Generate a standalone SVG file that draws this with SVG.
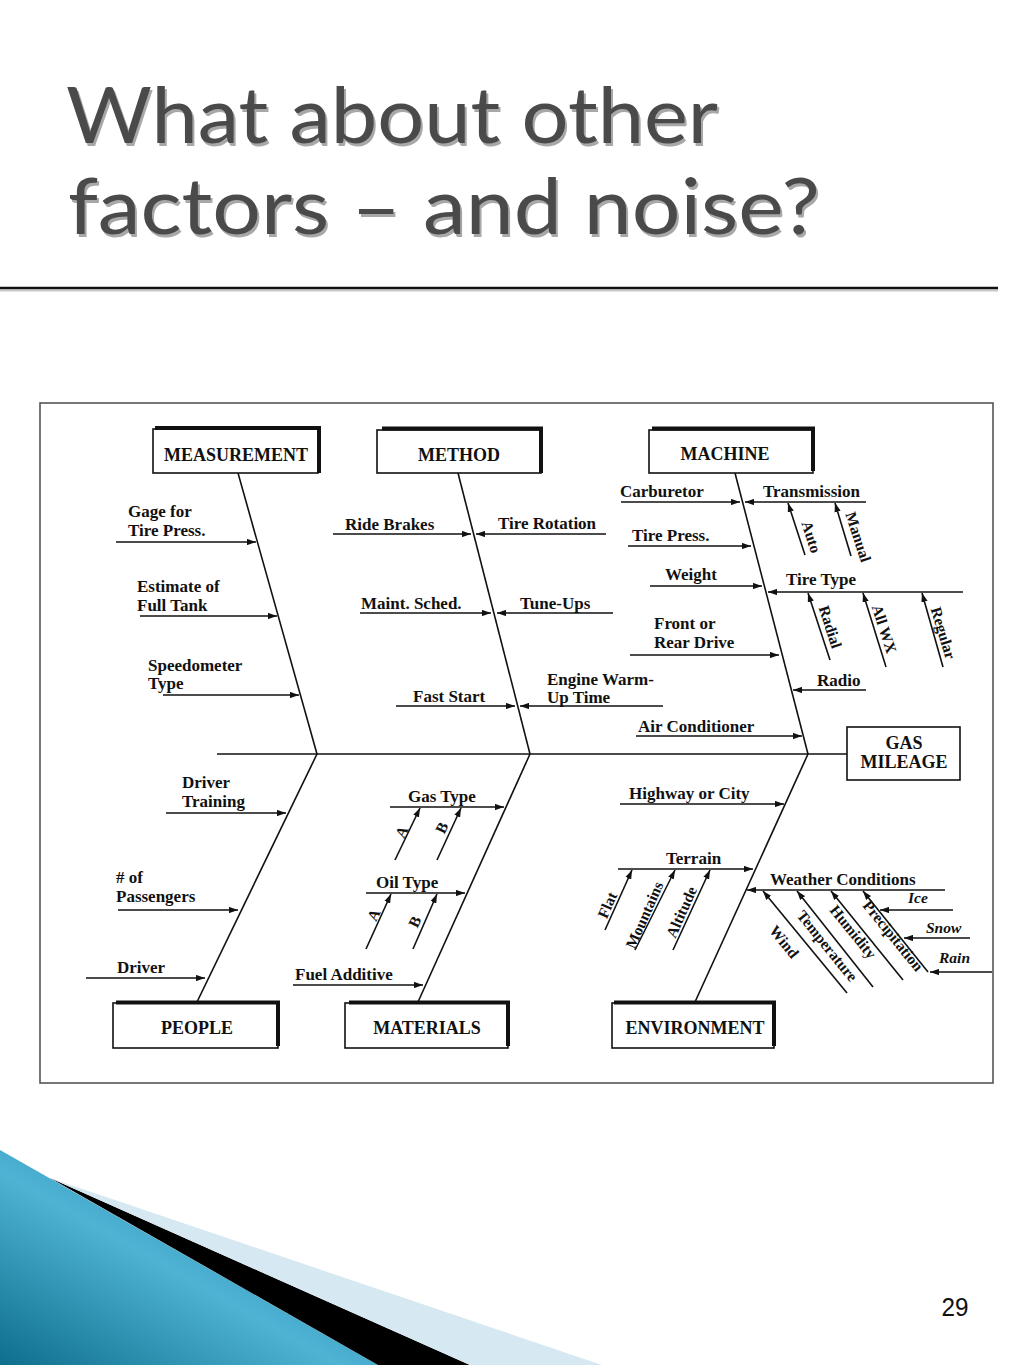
<svg xmlns="http://www.w3.org/2000/svg" width="1024" height="1365" viewBox="0 0 1024 1365">
<defs>
<marker id="ah" viewBox="0 0 10 7" refX="10" refY="3.5" markerWidth="9" markerHeight="6.5" markerUnits="userSpaceOnUse" orient="auto">
<path d="M0,0 L10,3.5 L0,7 z" fill="#111"/>
</marker>
<linearGradient id="bl" x1="0" y1="1" x2="1" y2="0">
<stop offset="0" stop-color="#0e6f8c"/>
<stop offset="0.45" stop-color="#4fb3d4"/>
<stop offset="0.8" stop-color="#1a86a8"/>
<stop offset="1" stop-color="#0d6a86"/>
</linearGradient>
<style>
.l{stroke:#111;stroke-width:1.6;fill:none}
.a{marker-end:url(#ah)}
.t{font-family:"Liberation Serif","Times New Roman",serif;font-weight:bold;font-size:17px;fill:#111}
.b{font-size:18px}
.s{font-size:15.5px}
.c{text-anchor:middle}
.i{font-style:italic}
.box{fill:#fff;stroke:#111;stroke-width:1.6}
.sh{stroke:#111;stroke-width:4;fill:none}
.ttl{font-family:Lato,"Open Sans",sans-serif;font-size:77px;fill:#4a4a4a}
.tts{font-family:Lato,"Open Sans",sans-serif;font-size:77px;fill:#a8a8a8}
</style>
</defs>
<rect width="1024" height="1365" fill="#fff"/>

<g id="title">
<text class="tts" x="68" y="145.5" textLength="652" lengthAdjust="spacingAndGlyphs">What about other</text>
<text class="tts" x="70" y="236.5" textLength="752" lengthAdjust="spacingAndGlyphs">factors – and noise?</text>
<text class="ttl" x="66" y="143" textLength="652" lengthAdjust="spacingAndGlyphs">What about other</text>
<text class="ttl" x="68" y="234" textLength="752" lengthAdjust="spacingAndGlyphs">factors – and noise?</text>
<line x1="0" y1="290.5" x2="998" y2="290.5" stroke="#c8c8c8" stroke-width="2"/>
<line x1="0" y1="288" x2="998" y2="288" stroke="#111" stroke-width="2.5"/>
</g>

<g id="decoration">
<polygon points="0,1150 378,1365 0,1365" fill="url(#bl)"/>
<polygon points="50,1178 470,1365 378,1365" fill="#000"/>
<polygon points="50,1178 602,1365 470,1365" fill="#d6e8f1"/>
<text x="955" y="1316" font-family="'Liberation Sans Narrow','Liberation Sans',sans-serif" font-size="25" text-anchor="middle" fill="#111" textLength="27" lengthAdjust="spacingAndGlyphs">29</text>
</g>

<rect id="frame" x="40" y="403" width="953" height="680" fill="none" stroke="#555" stroke-width="1.6"/>

<g id="connectors">
<line class="l" x1="217" y1="754" x2="847" y2="754"/>
<line class="l" x1="238" y1="473" x2="317" y2="754"/>
<line class="l" x1="458" y1="473" x2="530" y2="754"/>
<line class="l" x1="735" y1="473" x2="808" y2="754"/>
<line class="l" x1="317" y1="754" x2="197" y2="1002"/>
<line class="l" x1="530" y1="754" x2="418" y2="1002"/>
<line class="l" x1="808" y1="754" x2="695" y2="1002"/>
<line class="l a" x1="116" y1="542" x2="256" y2="542"/>
<line class="l a" x1="140" y1="616" x2="277" y2="616"/>
<line class="l a" x1="163" y1="695" x2="299" y2="695"/>
<line class="l a" x1="333" y1="534" x2="471" y2="534"/>
<line class="l a" x1="606" y1="534" x2="476" y2="534"/>
<line class="l a" x1="360" y1="613" x2="491" y2="613"/>
<line class="l a" x1="613" y1="613" x2="497" y2="613"/>
<line class="l a" x1="396" y1="706" x2="515" y2="706"/>
<line class="l a" x1="663" y1="706" x2="520" y2="706"/>
<line class="l a" x1="621" y1="502" x2="740" y2="502"/>
<line class="l a" x1="866" y1="502" x2="745" y2="502"/>
<line class="l a" x1="805" y1="555" x2="788" y2="503"/>
<line class="l a" x1="851" y1="556" x2="835" y2="503"/>
<line class="l a" x1="628" y1="546" x2="751" y2="546"/>
<line class="l a" x1="650" y1="586" x2="762" y2="586"/>
<line class="l a" x1="963" y1="592" x2="768" y2="592"/>
<line class="l a" x1="830" y1="660" x2="808" y2="593"/>
<line class="l a" x1="886" y1="667" x2="863" y2="593"/>
<line class="l a" x1="943" y1="667" x2="922" y2="593"/>
<line class="l a" x1="630" y1="655" x2="779" y2="655"/>
<line class="l a" x1="866" y1="690" x2="793" y2="690"/>
<line class="l a" x1="636" y1="736" x2="802" y2="736"/>
<line class="l a" x1="166" y1="813" x2="286" y2="813"/>
<line class="l a" x1="118" y1="910" x2="238" y2="910"/>
<line class="l a" x1="86" y1="978" x2="205" y2="978"/>
<line class="l a" x1="390" y1="807" x2="504" y2="807"/>
<line class="l a" x1="395" y1="860" x2="420" y2="808"/>
<line class="l a" x1="437" y1="860" x2="461" y2="808"/>
<line class="l a" x1="366" y1="893" x2="465" y2="893"/>
<line class="l a" x1="366" y1="949" x2="391" y2="894"/>
<line class="l a" x1="413" y1="949" x2="437" y2="894"/>
<line class="l a" x1="293" y1="985" x2="423" y2="985"/>
<line class="l a" x1="620" y1="804" x2="784" y2="804"/>
<line class="l a" x1="618" y1="869" x2="753" y2="869"/>
<line class="l a" x1="605" y1="930" x2="632" y2="870"/>
<line class="l a" x1="635" y1="950" x2="675" y2="870"/>
<line class="l a" x1="673" y1="950" x2="710" y2="870"/>
<line class="l a" x1="945" y1="890" x2="747" y2="890"/>
<line class="l a" x1="847" y1="993" x2="763" y2="891"/>
<line class="l a" x1="873" y1="987" x2="797" y2="891"/>
<line class="l a" x1="903" y1="980" x2="831" y2="891"/>
<line class="l a" x1="928" y1="972" x2="863" y2="891"/>
<line class="l a" x1="953" y1="910" x2="880" y2="910"/>
<line class="l a" x1="970" y1="938" x2="904" y2="938"/>
<line class="l a" x1="992" y1="972" x2="930" y2="972"/>
</g>

<g id="n-measurement">
<rect class="box" x="153" y="429" width="165" height="44"/>
<polyline class="sh" points="155,428 319,428 319,473"/>
<text class="t b c" x="236" y="461">MEASUREMENT</text>
</g>
<g id="n-method">
<rect class="box" x="377" y="430" width="164" height="43"/>
<polyline class="sh" points="382,428.5 541,428.5 541,473"/>
<text class="t b c" x="459" y="461">METHOD</text>
</g>
<g id="n-machine">
<rect class="box" x="649" y="430" width="164" height="43"/>
<polyline class="sh" points="652,428.5 813,428.5 813,471"/>
<text class="t b c" x="725" y="460">MACHINE</text>
</g>
<g id="n-people">
<rect class="box" x="113" y="1003" width="165" height="45"/>
<polyline class="sh" points="116,1002.5 278,1002.5 278,1046"/>
<text class="t b c" x="197" y="1034">PEOPLE</text>
</g>
<g id="n-materials">
<rect class="box" x="345" y="1003" width="163" height="45"/>
<polyline class="sh" points="349,1002.5 508,1002.5 508,1046"/>
<text class="t b c" x="427" y="1034">MATERIALS</text>
</g>
<g id="n-environment">
<rect class="box" x="612" y="1003" width="162" height="45"/>
<polyline class="sh" points="614,1002.5 774,1002.5 774,1046"/>
<text class="t b c" x="695" y="1034">ENVIRONMENT</text>
</g>
<g id="n-gas-mileage">
<rect class="box" x="847" y="727" width="113" height="53"/>
<text class="t b c" x="904" y="749">GAS</text>
<text class="t b c" x="904" y="768">MILEAGE</text>
</g>

<g id="n-causes-measurement">
<text class="t" x="128" y="517">Gage for</text>
<text class="t" x="128" y="536">Tire Press.</text>
<text class="t" x="137" y="592">Estimate of</text>
<text class="t" x="137" y="611">Full Tank</text>
<text class="t" x="148" y="671">Speedometer</text>
<text class="t" x="148" y="689">Type</text>
</g>
<g id="n-causes-method">
<text class="t" x="345" y="530">Ride Brakes</text>
<text class="t" x="498" y="529">Tire Rotation</text>
<text class="t" x="361" y="609">Maint. Sched.</text>
<text class="t" x="520" y="609">Tune-Ups</text>
<text class="t" x="413" y="702">Fast Start</text>
<text class="t" x="547" y="685">Engine Warm-</text>
<text class="t" x="547" y="703">Up Time</text>
</g>
<g id="n-causes-machine">
<text class="t" x="620" y="497">Carburetor</text>
<text class="t" x="763" y="497">Transmission</text>
<text class="t s" transform="translate(811,537) rotate(72)" text-anchor="middle" y="5">Auto</text>
<text class="t s" transform="translate(858,537) rotate(72)" text-anchor="middle" y="5">Manual</text>
<text class="t" x="632" y="541">Tire Press.</text>
<text class="t" x="665" y="580">Weight</text>
<text class="t" x="786" y="585">Tire Type</text>
<text class="t s" transform="translate(830,627) rotate(72)" text-anchor="middle" y="5">Radial</text>
<text class="t s" transform="translate(884,629) rotate(72)" text-anchor="middle" y="5">All WX</text>
<text class="t s" transform="translate(943,633) rotate(73)" text-anchor="middle" y="5">Regular</text>
<text class="t" x="654" y="629">Front or</text>
<text class="t" x="654" y="648">Rear Drive</text>
<text class="t" x="817" y="686">Radio</text>
<text class="t" x="638" y="732">Air Conditioner</text>
</g>
<g id="n-causes-people">
<text class="t" x="182" y="788">Driver</text>
<text class="t" x="182" y="807">Training</text>
<text class="t" x="116" y="883"># of</text>
<text class="t" x="116" y="902">Passengers</text>
<text class="t" x="117" y="973">Driver</text>
</g>
<g id="n-causes-materials">
<text class="t" x="408" y="802">Gas Type</text>
<text class="t s" transform="translate(402,832) rotate(-64)" text-anchor="middle" y="5">A</text>
<text class="t s" transform="translate(442,828) rotate(-64)" text-anchor="middle" y="5">B</text>
<text class="t" x="376" y="888">Oil Type</text>
<text class="t s" transform="translate(374,915) rotate(-64)" text-anchor="middle" y="5">A</text>
<text class="t s" transform="translate(415,922) rotate(-64)" text-anchor="middle" y="5">B</text>
<text class="t" x="295" y="980">Fuel Additive</text>
</g>
<g id="n-causes-environment">
<text class="t" x="629" y="799">Highway or City</text>
<text class="t" x="666" y="864">Terrain</text>
<text class="t s" transform="translate(614,908) rotate(-66)" text-anchor="middle" y="-2">Flat</text>
<text class="t s" transform="translate(651,918) rotate(-66)" text-anchor="middle" y="-2">Mountains</text>
<text class="t s" transform="translate(688,915) rotate(-66)" text-anchor="middle" y="-2">Altitude</text>
<text class="t" x="770" y="885">Weather Conditions</text>
<text class="t s" transform="translate(784,942) rotate(51)" text-anchor="middle" y="5">Wind</text>
<text class="t s" transform="translate(827,946) rotate(51)" text-anchor="middle" y="5">Temperature</text>
<text class="t s" transform="translate(853,932) rotate(51)" text-anchor="middle" y="5">Humidity</text>
<text class="t s" transform="translate(893,936) rotate(51)" text-anchor="middle" y="5">Precipitation</text>
<text class="t s i" x="908" y="903">Ice</text>
<text class="t s i" x="926" y="933">Snow</text>
<text class="t s i" x="939" y="963">Rain</text>
</g>
</svg>
